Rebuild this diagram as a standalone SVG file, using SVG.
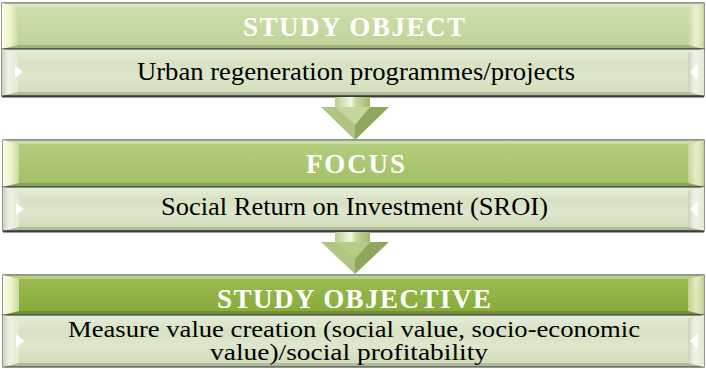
<svg xmlns="http://www.w3.org/2000/svg" width="706" height="369" viewBox="0 0 706 369">
<defs>
<linearGradient id="h1" x1="0" y1="0" x2="0" y2="1"><stop offset="0" stop-color="#cfe0ad"/><stop offset="1" stop-color="#bdd396"/></linearGradient>
<linearGradient id="h2" x1="0" y1="0" x2="0" y2="1"><stop offset="0" stop-color="#b4cf7f"/><stop offset="1" stop-color="#a2c064"/></linearGradient>
<linearGradient id="h3" x1="0" y1="0" x2="0" y2="1"><stop offset="0" stop-color="#9cbd52"/><stop offset="1" stop-color="#86aa38"/></linearGradient>
<linearGradient id="sb" x1="0" y1="0" x2="0" y2="1"><stop offset="0" stop-color="#e6eedb"/><stop offset="0.3" stop-color="#d6e2c2"/><stop offset="0.6" stop-color="#dde7cc"/><stop offset="1" stop-color="#ccdab4"/></linearGradient>
<linearGradient id="lb" x1="0" y1="0" x2="1" y2="0"><stop offset="0" stop-color="#fbfde6"/><stop offset="0.5" stop-color="#eef5cc"/><stop offset="1" stop-color="#c8da9e"/></linearGradient>
<linearGradient id="rb" x1="0" y1="0" x2="1" y2="0"><stop offset="0" stop-color="#c8d99e"/><stop offset="0.5" stop-color="#f4f8e0"/><stop offset="1" stop-color="#cfe0a8"/></linearGradient>
<linearGradient id="sl" x1="0" y1="0" x2="1" y2="0"><stop offset="0" stop-color="#c9d4bb"/><stop offset="0.4" stop-color="#eef3e6"/><stop offset="1" stop-color="#e2ead4"/></linearGradient>
<linearGradient id="shaft" x1="0" y1="0" x2="1" y2="0"><stop offset="0" stop-color="#b9cf8c"/><stop offset="0.45" stop-color="#f2f7e4"/><stop offset="0.6" stop-color="#c6d89e"/><stop offset="1" stop-color="#9fba6c"/></linearGradient>
</defs>
<style>
.frame{stroke:#4d4d4d;stroke-width:1.2}
.hd{font-family:"Liberation Serif","Times New Roman",serif;font-weight:bold;font-size:27px;fill:#ffffff;text-anchor:middle}
.tx{font-family:"Liberation Serif","Times New Roman",serif;font-size:26px;fill:#000000;text-anchor:middle}
.tx3{font-family:"Liberation Serif","Times New Roman",serif;font-size:24px;fill:#000000;text-anchor:middle}
.bl{fill:url(#lb)}
.br{fill:url(#rb);opacity:0.8}
.bt{fill:#ffffff;opacity:0.3}
.bb{fill:#000000;opacity:0.15}
.sl{fill:url(#sl)}
.wt{fill:#ffffff}
.ahl{fill:#aec583}
.ahr{fill:#8ea85c}
</style>

<g id="node-study-object">
<rect x="2" y="3" width="702" height="46" fill="url(#h1)" class="frame"/>
<polygon class="bl" points="2,3 18,7 18,45 2,49"/>
<polygon class="br" points="704,3 704,49 688,45 688,7"/>
<polygon class="bt" points="2,3 704,3 688,7 18,7"/>
<polygon class="bb" points="2,49 18,45 688,45 704,49"/>
<text class="hd" x="354" y="36" textLength="222" lengthAdjust="spacing">STUDY OBJECT</text>
<rect x="2" y="49" width="702" height="47" fill="url(#sb)" class="frame"/>
<polygon class="sl" points="2,49 18,53 18,92 2,96"/>
<polygon class="wt" points="15,66 23,72 15,78"/>
<polygon class="sl" points="704,49 704,96 688,92 688,53"/>
<polygon class="wt" points="690,72 698,64 698,80"/>
<polygon class="bb" points="2,96 18,92 688,92 704,96"/>
<line x1="2" y1="96.5" x2="704" y2="96.5" stroke="#3a3a3a" stroke-width="2"/>
<text class="tx" x="356" y="80" textLength="438" lengthAdjust="spacingAndGlyphs">Urban regeneration programmes/projects</text>
</g>

<g id="node-focus">
<rect x="3" y="140" width="701" height="47" fill="url(#h2)" class="frame"/>
<polygon class="bl" points="3,140 19,144 19,183 3,187"/>
<polygon class="br" points="704,140 704,187 688,183 688,144"/>
<polygon class="bt" points="3,140 704,140 688,144 19,144"/>
<polygon class="bb" points="3,187 19,183 688,183 704,187"/>
<text class="hd" x="355.5" y="173" textLength="99" lengthAdjust="spacing">FOCUS</text>
<rect x="3" y="187" width="701" height="44" fill="url(#sb)" class="frame"/>
<polygon class="sl" points="3,187 19,191 19,227 3,231"/>
<polygon class="wt" points="16,203 24,209 16,215"/>
<polygon class="sl" points="704,187 704,231 688,227 688,191"/>
<polygon class="wt" points="690,209 698,201 698,217"/>
<polygon class="bb" points="3,231 19,227 688,227 704,231"/>
<line x1="3" y1="231.5" x2="704" y2="231.5" stroke="#3a3a3a" stroke-width="2"/>
<text class="tx" x="354.5" y="215" textLength="387" lengthAdjust="spacingAndGlyphs">Social Return on Investment (SROI)</text>
</g>

<g id="node-study-objective">
<rect x="3" y="275" width="701" height="40" fill="url(#h3)" class="frame"/>
<polygon class="bl" points="3,275 19,279 19,311 3,315"/>
<polygon class="br" points="704,275 704,315 688,311 688,279"/>
<polygon class="bt" points="3,275 704,275 688,279 19,279"/>
<polygon class="bb" points="3,315 19,311 688,311 704,315"/>
<text class="hd" x="354" y="308" textLength="274" lengthAdjust="spacing">STUDY OBJECTIVE</text>
<rect x="3" y="315" width="701" height="52" fill="url(#sb)" class="frame"/>
<polygon class="sl" points="3,315 19,319 19,363 3,367"/>
<polygon class="wt" points="16,334 24,341 16,348"/>
<polygon class="sl" points="704,315 704,367 688,363 688,319"/>
<polygon class="wt" points="690,341 698,333 698,349"/>
<polygon class="bb" points="3,367 19,363 688,363 704,367"/>
<text class="tx3" x="354" y="337" textLength="572" lengthAdjust="spacingAndGlyphs">Measure value creation (social value, socio-economic</text>
<text class="tx3" x="349" y="360" textLength="278" lengthAdjust="spacingAndGlyphs">value)/social profitability</text>
</g>

<g id="connectors">
<g id="arrow-1">
<rect x="335" y="97" width="35" height="11" fill="url(#shaft)"/>
<polygon class="ahl" points="321,107 355,107 355,140"/>
<polygon class="ahr" points="355,107 389,107 355,140"/>
<polygon fill="#c4d79c" points="335,107 370,107 355,125"/>
</g>
<g id="arrow-2">
<rect x="335" y="232" width="35" height="11" fill="url(#shaft)"/>
<polygon class="ahl" points="321,242 355,242 355,274"/>
<polygon class="ahr" points="355,242 389,242 355,274"/>
<polygon fill="#b6cd84" points="335,242 370,242 355,259"/>
</g>
</g>
</svg>
